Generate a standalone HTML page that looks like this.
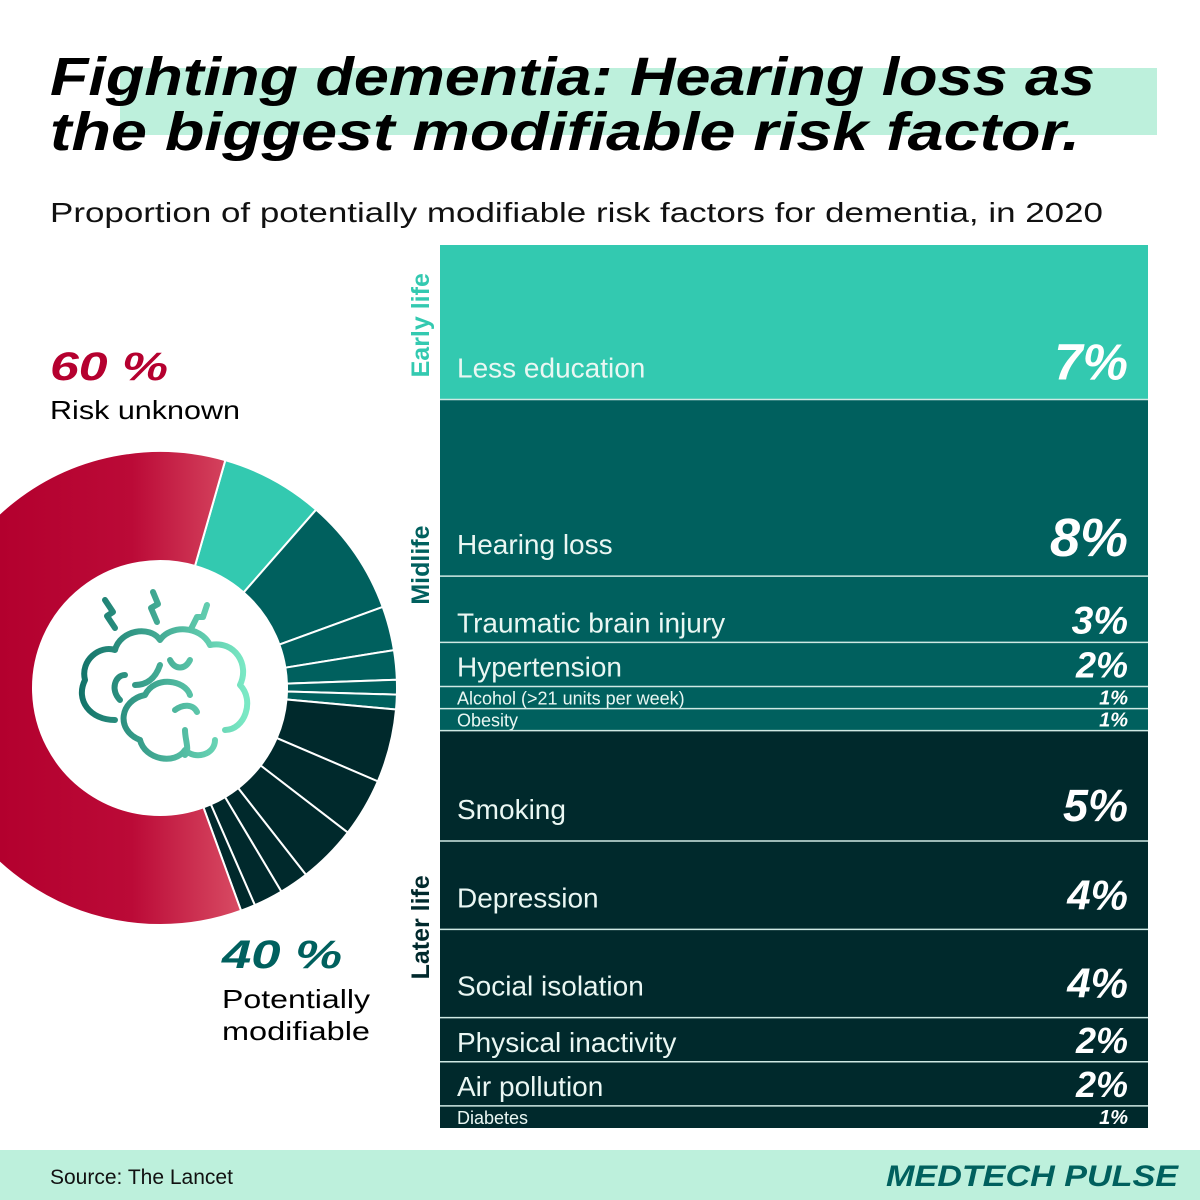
<!DOCTYPE html>
<html><head><meta charset="utf-8"><style>
html,body{margin:0;padding:0;background:#fff}
svg{display:block}
text{font-family:"Liberation Sans",sans-serif}
</style></head><body>
<svg id="page" width="1200" height="1200" viewBox="0 0 1200 1200">
<defs>
<linearGradient id="redGrad" x1="0" y1="0" x2="240" y2="0" gradientUnits="userSpaceOnUse">
<stop offset="0" stop-color="#b3002e"/><stop offset="0.55" stop-color="#bb0a37"/><stop offset="1" stop-color="#d84b63"/>
</linearGradient>
<linearGradient id="brainGrad" x1="70" y1="0" x2="245" y2="0" gradientUnits="userSpaceOnUse">
<stop offset="0" stop-color="#0b6b63"/><stop offset="1" stop-color="#7ae8c4"/>
</linearGradient>
</defs>
<rect x="120" y="68" width="1037" height="67" fill="#bdf0dc"/>
<text x="50" y="95" font-size="54" font-weight="bold" font-style="italic" textLength="1045" lengthAdjust="spacingAndGlyphs" fill="#000">Fighting dementia: Hearing loss as</text>
<text x="50" y="150" font-size="54" font-weight="bold" font-style="italic" textLength="1030" lengthAdjust="spacingAndGlyphs" fill="#000">the biggest modifiable risk factor.</text>
<text x="50" y="222" font-size="28" textLength="1053" lengthAdjust="spacingAndGlyphs" fill="#111">Proportion of potentially modifiable risk factors for dementia, in 2020</text>

<text x="50" y="380" font-size="40" font-weight="bold" font-style="italic" fill="#b5002f" textLength="118" lengthAdjust="spacingAndGlyphs">60 %</text>
<text x="50" y="419" font-size="26" fill="#000" textLength="190" lengthAdjust="spacingAndGlyphs">Risk unknown</text>
<text x="222" y="968" font-size="40" font-weight="bold" font-style="italic" fill="#00605e" textLength="120" lengthAdjust="spacingAndGlyphs">40 %</text>
<text x="222" y="1008" font-size="26" fill="#000" textLength="148" lengthAdjust="spacingAndGlyphs">Potentially</text>
<text x="222" y="1040" font-size="26" fill="#000" textLength="148" lengthAdjust="spacingAndGlyphs">modifiable</text>

<g id="donut"></g>

<g fill="none" stroke="url(#brainGrad)" stroke-width="6" stroke-linecap="round" stroke-linejoin="round">
<path d="M105 600 l8 12 l-6 4 l8 12"/>
<path d="M153 592 l5 12 l-7 4 l6 14"/>
<path d="M207 605 l-4 12 l-6 0 l-6 12"/>
<path d="M115 720 c-25 0 -40 -20 -30 -40 c-5 -20 15 -35 30 -30 c5 -20 35 -25 45 -10 c10 -15 40 -15 50 5 c25 -5 40 20 30 40 c15 15 5 45 -15 45"/>
<path d="M120 700 c-10 -10 -5 -25 5 -25"/>
<path d="M140 740 c-25 -10 -20 -40 5 -45 c10 -20 40 -15 45 0"/>
<path d="M140 740 c5 20 35 25 45 10 c10 10 30 5 30 -10"/>
<path d="M175 710 c8 -6 18 -6 22 2"/>
<path d="M170 660 c5 10 15 10 20 0"/>
<path d="M185 730 c0 10 5 20 0 25"/>
<path d="M160 665 c-5 15 -15 20 -25 20"/>
</g>

<g id="table"></g>

<rect x="0" y="1150" width="1200" height="50" fill="#bdf0dc"/>
<text x="50" y="1184" font-size="21" fill="#111">Source: The Lancet</text>
<text x="1178" y="1186" font-size="30" font-weight="bold" font-style="italic" fill="#00605e" text-anchor="end" textLength="292" lengthAdjust="spacingAndGlyphs">MEDTECH PULSE</text>
</svg>
<script>
const factors = ["Less education","Hearing loss","Traumatic brain injury","Hypertension","Alcohol (>21 units per week)","Obesity","Smoking","Depression","Social isolation","Physical inactivity","Air pollution","Diabetes"];
const values = [7,8,3,2,1,1,5,4,4,2,2,1];
const stages = ["early","mid","mid","mid","mid","mid","late","late","late","late","late","late"];
const stageNames = ["Early life","Midlife","Later life"];
const stageKeys = ["early","mid","late"];
const unknownShare = 60;
const NS = "http://www.w3.org/2000/svg";
const stageColor = {early:"#33c9b0", mid:"#00605e", late:"#00292c"};
const stageTextColor = {early:"#33c9b0", mid:"#00605e", late:"#00292c"};

// donut
const cx=160, cy=688, R=237, r=127, startDeg=16;
const deg = v => v*3.6;
function pt(a,rad){const t=(a-90)*Math.PI/180;return [cx+rad*Math.cos(t), cy+rad*Math.sin(t)];}
function arc(a0,a1){
  const large=(a1-a0)>180?1:0;
  const p0=pt(a0,R),p1=pt(a1,R),p2=pt(a1,r),p3=pt(a0,r);
  return `M${p0[0]},${p0[1]} A${R},${R} 0 ${large} 1 ${p1[0]},${p1[1]} L${p2[0]},${p2[1]} A${r},${r} 0 ${large} 0 ${p3[0]},${p3[1]} Z`;
}
const donut=document.getElementById('donut');
let a=startDeg;
values.forEach((v,i)=>{
  const p=document.createElementNS(NS,'path');
  p.setAttribute('d',arc(a,a+deg(v)));
  p.setAttribute('fill',stageColor[stages[i]]);
  p.setAttribute('stroke','#fff');p.setAttribute('stroke-width','2');
  
  
  donut.appendChild(p);
  a+=deg(v);
});
const red=document.createElementNS(NS,'path');
red.setAttribute('d',arc(a,a+deg(unknownShare)));
red.setAttribute('fill','url(#redGrad)');
red.setAttribute('stroke','#fff');red.setAttribute('stroke-width','2');


donut.appendChild(red);

// table
const tx=440, tw=708, ty=245, th=883;
const total=values.reduce((s,v)=>s+v,0);
const minH=22;
const rowScale=th/total;
let heights=values.map(v=>Math.max(minH, v*rowScale));
const sumH=heights.reduce((s,h)=>s+h,0);
heights=heights.map(h=>h*th/sumH);
const table=document.getElementById('table');
let y=ty; const stageRange={};
values.forEach((v,i)=>{
  const h=heights[i];
  const st=stages[i];
  if(!stageRange[st]) stageRange[st]=[y,y+h]; else stageRange[st][1]=y+h;
  const rect=document.createElementNS(NS,'rect');
  rect.setAttribute('x',tx);rect.setAttribute('y',y);rect.setAttribute('width',tw);rect.setAttribute('height',h);
  rect.setAttribute('fill',stageColor[st]);
  
  
  table.appendChild(rect);
  const small=h<30;
  const lf=small?18:28;
  const off=small?4:(h<80?10:22);
  const lab=document.createElementNS(NS,'text');
  lab.setAttribute('x',457);lab.setAttribute('y',y+h-off);
  lab.setAttribute('font-size',lf);lab.setAttribute('fill','#eaf7f3');
  lab.textContent=factors[i];
  
  
  table.appendChild(lab);
  const pf=small?20:Math.min(54, 30+v*3);
  const val=document.createElementNS(NS,'text');
  val.setAttribute('x',1128);val.setAttribute('y',y+h-(small?4:(h<80?9:20)));
  val.setAttribute('font-size',pf);val.setAttribute('font-weight','bold');val.setAttribute('font-style','italic');
  val.setAttribute('text-anchor','end');val.setAttribute('fill','#fff');
  val.textContent=v+'%';
  
  
  table.appendChild(val);
  if(i>0){
    const ln=document.createElementNS(NS,'line');
    ln.setAttribute('x1',tx);ln.setAttribute('x2',tx+tw);ln.setAttribute('y1',y);ln.setAttribute('y2',y);
    ln.setAttribute('stroke','#cfe9e4');ln.setAttribute('stroke-width','1.5');
    
    
    table.appendChild(ln);
  }
  y+=h;
});
stageKeys.forEach((k,j)=>{
  const [y0,y1]=stageRange[k];
  const t=document.createElementNS(NS,'text');
  const my=(y0+y1)/2 + (k==='late'?-2:(k==='mid'?0:3));
  t.setAttribute('transform',`translate(429,${my}) rotate(-90)`);
  t.setAttribute('text-anchor','middle');t.setAttribute('font-size','25');
  t.setAttribute('font-weight','bold');
  t.setAttribute('fill',stageTextColor[k]);
  t.textContent=stageNames[j];
  
  
  table.appendChild(t);
});
</script>
</body></html>
